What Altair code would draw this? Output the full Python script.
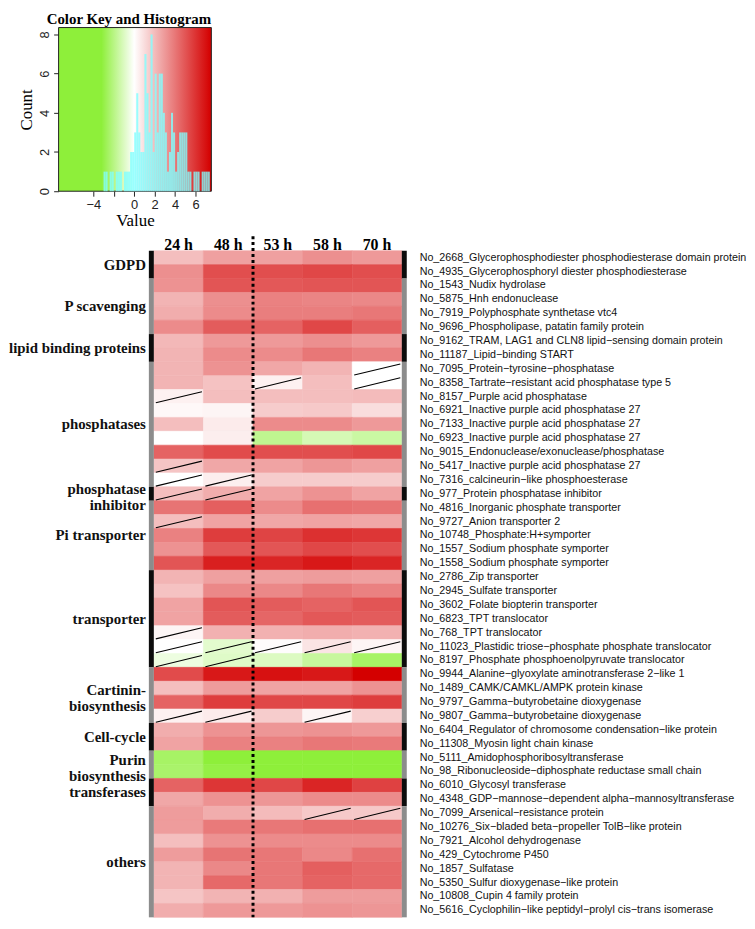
import altair as alt
import pandas as pd

# ---------------- data ----------------
times = ["24 h", "48 h", "53 h", "58 h", "70 h"]

genes = [
    "No_2668_Glycerophosphodiester phosphodiesterase domain protein",
    "No_4935_Glycerophosphoryl diester phosphodiesterase",
    "No_1543_Nudix hydrolase",
    "No_5875_Hnh endonuclease",
    "No_7919_Polyphosphate synthetase vtc4",
    "No_9696_Phospholipase, patatin family protein",
    "No_9162_TRAM, LAG1 and CLN8 lipid\u2212sensing domain protein",
    "No_11187_Lipid\u2212binding START",
    "No_7095_Protein\u2212tyrosine\u2212phosphatase",
    "No_8358_Tartrate\u2212resistant acid phosphatase type 5",
    "No_8157_Purple acid phosphatase",
    "No_6921_Inactive purple acid phosphatase 27",
    "No_7133_Inactive purple acid phosphatase 27",
    "No_6923_Inactive purple acid phosphatase 27",
    "No_9015_Endonuclease/exonuclease/phosphatase",
    "No_5417_Inactive purple acid phosphatase 27",
    "No_7316_calcineurin\u2212like phosphoesterase",
    "No_977_Protein phosphatase inhibitor",
    "No_4816_Inorganic phosphate transporter",
    "No_9727_Anion transporter 2",
    "No_10748_Phosphate:H+symporter",
    "No_1557_Sodium phosphate symporter",
    "No_1558_Sodium phosphate symporter",
    "No_2786_Zip transporter",
    "No_2945_Sulfate transporter",
    "No_3602_Folate biopterin transporter",
    "No_6823_TPT translocator",
    "No_768_TPT translocator",
    "No_11023_Plastidic triose\u2212phosphate phosphate translocator",
    "No_8197_Phosphate phosphoenolpyruvate translocator",
    "No_9944_Alanine\u2212glyoxylate aminotransferase 2\u2212like 1",
    "No_1489_CAMK/CAMKL/AMPK protein kinase",
    "No_9797_Gamma\u2212butyrobetaine dioxygenase",
    "No_9807_Gamma\u2212butyrobetaine dioxygenase",
    "No_6404_Regulator of chromosome condensation\u2212like protein",
    "No_11308_Myosin light chain kinase",
    "No_5111_Amidophosphoribosyltransferase",
    "No_98_Ribonucleoside\u2212diphosphate reductase small chain",
    "No_6010_Glycosyl transferase",
    "No_4348_GDP\u2212mannose\u2212dependent alpha\u2212mannosyltransferase",
    "No_7099_Arsenical\u2212resistance protein",
    "No_10276_Six\u2212bladed beta\u2212propeller TolB\u2212like protein",
    "No_7921_Alcohol dehydrogenase",
    "No_429_Cytochrome P450",
    "No_1857_Sulfatase",
    "No_5350_Sulfur dioxygenase\u2212like protein",
    "No_10808_Cupin 4 family protein",
    "No_5616_Cyclophilin\u2212like peptidyl\u2212prolyl cis\u2212trans isomerase",
]

v24 = [1.9, 3.3, 3.2, 2.2, 2.4, 3.4, 2.1, 2.2, 2.2, 2.2, 0.4, 0.2, 1.9, 0.0, 4.6, 1.7,
       0.0, 1.9, 4.1, 1.9, 3.7, 3.2, 5.0, 2.2, 1.8, 2.7, 2.7, 0.3, 0.0, -0.5, 5.3, 1.9,
       4.6, 0.4, 2.4, 2.7, -2.5, -2.4, 4.6, 2.6, 2.9, 2.9, 1.9, 2.9, 2.2, 2.2, 1.7, 2.4]
v48 = [2.8, 5.2, 5.0, 3.3, 3.4, 4.8, 3.0, 3.4, 3.2, 1.8, 1.9, 0.3, 0.6, 0.5, 5.3, 2.6,
       0.5, 2.4, 4.7, 2.7, 5.7, 4.9, 6.6, 2.8, 3.5, 5.0, 4.8, 2.3, -0.8, -0.9, 6.8, 2.9,
       5.7, 0.6, 3.2, 3.7, -3.6, -3.0, 5.9, 3.2, 2.4, 3.9, 3.2, 4.1, 3.5, 4.4, 2.2, 3.0]
v53 = [2.8, 5.2, 4.9, 3.7, 3.8, 4.6, 3.0, 3.4, 2.6, 0.4, 1.9, 1.5, 3.4, -1.8, 5.2, 2.7,
       1.5, 2.7, 3.4, 2.6, 5.5, 5.0, 6.4, 2.8, 3.5, 4.8, 4.5, 2.3, 0.1, -1.0, 7.0, 2.7,
       5.4, 1.5, 3.1, 3.7, -4.0, -3.6, 5.4, 3.1, 2.0, 4.0, 3.4, 4.0, 4.0, 4.0, 2.3, 3.0]
v58 = [3.3, 5.4, 5.0, 3.6, 3.8, 5.4, 3.3, 4.0, 2.2, 1.9, 1.9, 1.6, 3.4, -1.2, 5.2, 3.1,
       1.5, 3.2, 4.2, 2.7, 6.1, 5.4, 6.8, 2.9, 4.0, 4.6, 4.9, 2.4, 0.8, -1.6, 6.8, 2.7,
       5.4, 0.3, 3.2, 4.0, -4.0, -3.8, 6.4, 3.4, 1.6, 4.2, 3.4, 3.5, 4.7, 4.6, 2.9, 3.2]
v70 = [3.0, 5.2, 5.0, 3.5, 4.0, 4.7, 3.0, 3.7, 0.0, 0.0, 2.0, 1.0, 3.0, -1.5, 5.4, 2.8,
       1.5, 2.7, 4.1, 2.6, 5.9, 5.2, 6.4, 2.8, 3.7, 5.0, 4.8, 2.3, 0.3, -2.5, 7.5, 3.2,
       5.7, 1.4, 3.0, 3.9, -4.0, -3.8, 5.6, 3.4, 1.6, 4.2, 3.4, 4.2, 4.4, 4.4, 2.9, 3.1]

group_names = ["GDPD", "P scavenging", "lipid binding proteins", "phosphatases",
               "phosphatase\ninhibitor", "Pi transporter", "transporter",
               "Cartinin-\nbiosynthesis", "Cell-cycle", "Purin\nbiosynthesis",
               "transferases", "others"]
group_sizes = [2, 4, 2, 9, 1, 5, 7, 4, 2, 2, 2, 8]

# (row, column) of cells crossed by a slash, 1-based
slashed = [(9, 5), (10, 3), (10, 5), (11, 1), (16, 1), (17, 1), (17, 2), (18, 1), (18, 2),
           (20, 1), (28, 1), (29, 1), (29, 2), (29, 3), (29, 4), (29, 5), (30, 1), (30, 2),
           (34, 1), (34, 2), (34, 4), (41, 4), (41, 5)]

divider_after = "48 h"

hist_start = [-3.0, -2.8, -2.6, -2.4, -2.2, -2.0, -1.8, -1.6, -1.4, -1.2, -1.0, -0.8, -0.6,
              -0.4, -0.2, 0.0, 0.2, 0.4, 0.6, 0.8, 1.0, 1.2, 1.4, 1.6, 1.8, 2.0, 2.2, 2.4,
              2.6, 2.8, 3.0, 3.2, 3.4, 3.6, 3.8, 4.0, 4.2, 4.4, 4.6, 4.8, 5.0, 5.2, 5.4,
              5.6, 5.8, 6.0, 6.2, 6.4, 6.6, 6.8, 7.0, 7.2]
hist_count = [1, 1, 0, 1, 1, 0, 1, 1, 1, 0, 1, 1, 1,
              2, 2, 3, 5, 3, 2, 2, 7, 5, 3, 8, 2, 6, 3, 6,
              6, 4, 3, 1, 2, 4, 3, 1, 2, 3, 3, 3, 3, 1, 1,
              0, 1, 1, 1, 0, 1, 1, 1, 1]
hist_width = 0.2
key_value_range = [-7.4, 7.55]
key_count_range = [0, 8.35]

# ---------------- styling ----------------
GREEN = "#8EEF3A"
WHITE = "#FFFFFF"
RED = "#D40000"
col_domain = [-7.5, -3.2, 0, 7.5]
col_range = [GREEN, GREEN, WHITE, RED]
color_scale = alt.Scale(domain=col_domain, range=col_range, interpolate="rgb", clamp=True)

W, H = 250, 672
KEY_H = 165
KEY_LEFT, KEY_RIGHT = -96, 58   # key plot edges relative to heatmap plot origin
GROUP_FS, GROUP_LH = 15, 16

SERIF = "Liberation Serif"
SANS = "Liberation Sans"

# ---------------- tables ----------------
value_cols = [v24, v48, v53, v58, v70]
cells = []
for i, g in enumerate(genes):
    for j, t in enumerate(times):
        cells.append({"gene": g, "time": t, "r0": i, "r1": i + 1, "c0": j, "c1": j + 1,
                      "value": value_cols[j][i]})
df_cells = pd.DataFrame(cells)

df_slash = pd.DataFrame([{"x0": c - 1 + 0.04, "x1": c - 1 + 0.97,
                          "y0": r - 1 + 0.95, "y1": r - 1 + 0.15} for r, c in slashed])

row_px = H / len(genes)
starts, acc = [], 0
for s in group_sizes:
    starts.append(acc)
    acc += s
df_groups = pd.DataFrame({
    "name": group_names,
    "start": starts,
    "end": [s + n for s, n in zip(starts, group_sizes)],
    # first line sits a little above the group centre when the label wraps
    "mid": [s + n / 2 - name.count("\n") * 0.3 * GROUP_LH / row_px
            for s, n, name in zip(starts, group_sizes, group_names)],
    "barcol": ["#0c0c0c" if k % 2 == 0 else "#8c8c8c" for k in range(len(group_names))],
})

df_rowlab = pd.DataFrame({"gene": genes, "r": [i + 0.5 for i in range(len(genes))]})
df_head = pd.DataFrame({"time": times, "xc": [j + 0.5 for j in range(len(times))],
                        "y": [-0.42] * len(times)})
df_div = pd.DataFrame({"x": [times.index(divider_after) + 1], "y0": [-1.05], "y1": [len(genes)]})

# ---------------- heatmap ----------------
xs = alt.Scale(domain=[0, len(times)], nice=False, zero=False)
ys = alt.Scale(domain=[0, len(genes)], reverse=True, nice=False, zero=False)

cell_layer = alt.Chart(df_cells).mark_rect(strokeWidth=0.6).encode(
    x=alt.X("c0:Q", scale=xs, axis=None),
    x2="c1:Q",
    y=alt.Y("r0:Q", scale=ys, axis=None),
    y2="r1:Q",
    color=alt.Color("value:Q", scale=color_scale, legend=None),
    stroke=alt.Stroke("value:Q", scale=color_scale, legend=None),
)

slash_layer = alt.Chart(df_slash).mark_rule(color="black", strokeWidth=1.1).encode(
    x=alt.X("x0:Q", scale=xs, axis=None), x2="x1:Q",
    y=alt.Y("y0:Q", scale=ys, axis=None), y2="y1:Q",
)

div_layer = alt.Chart(df_div).mark_rule(color="black", strokeWidth=3, strokeDash=[3, 3]).encode(
    x=alt.X("x:Q", scale=xs, axis=None),
    y=alt.Y("y0:Q", scale=ys, axis=None), y2="y1:Q",
)

head_layer = alt.Chart(df_head).mark_text(font=SERIF, fontSize=16, fontWeight="bold",
                                           baseline="middle", color="black").encode(
    x=alt.X("xc:Q", scale=xs, axis=None),
    y=alt.Y("y:Q", scale=ys, axis=None),
    text="time:N",
)

rowlab_layer = alt.Chart(df_rowlab).mark_text(font=SANS, fontSize=10.8, align="left",
                                               baseline="middle", color="#111").encode(
    x=alt.value(W + 18),
    y=alt.Y("r:Q", scale=ys, axis=None),
    text="gene:N",
)

grouplab_layer = alt.Chart(df_groups).mark_text(font=SERIF, fontSize=GROUP_FS,
                                                 fontWeight="bold",
                                                 align="right", baseline="middle",
                                                 lineBreak="\n", lineHeight=GROUP_LH,
                                                 color="#111").encode(
    x=alt.value(-8),
    y=alt.Y("mid:Q", scale=ys, axis=None),
    text="name:N",
)

left_bar = alt.Chart(df_groups).mark_rect().encode(
    x=alt.value(-5), x2=alt.value(0),
    y=alt.Y("start:Q", scale=ys, axis=None), y2="end:Q",
    fill=alt.Fill("barcol:N", scale=None),
)
right_bar = alt.Chart(df_groups).mark_rect().encode(
    x=alt.value(W), x2=alt.value(W + 5),
    y=alt.Y("start:Q", scale=ys, axis=None), y2="end:Q",
    fill=alt.Fill("barcol:N", scale=None),
)

heat = alt.layer(cell_layer, slash_layer, div_layer, head_layer, rowlab_layer,
                 grouplab_layer, left_bar, right_bar).properties(width=W, height=H)

# ---------------- colour key + histogram ----------------
kx = alt.Scale(domain=key_value_range, range=[KEY_LEFT, KEY_RIGHT], nice=False, zero=False)
ky = alt.Scale(domain=key_count_range, nice=False, zero=False)

span = key_value_range[1] - key_value_range[0]
stops = [alt.GradientStop(color=GREEN, offset=0.0)]
for d, c in zip(col_domain, col_range):
    off = (d - key_value_range[0]) / span
    if 0 < off < 1:
        stops.append(alt.GradientStop(color=c, offset=off))
stops.append(alt.GradientStop(color=RED, offset=1.0))
gradient = alt.LinearGradient(gradient="linear", stops=stops, x1=0, x2=1, y1=0, y2=0)

xaxis = alt.Axis(values=[-4, -2, 0, 2, 4, 6],
                 labelExpr="datum.value == -2 ? '' : datum.label",
                 title="Value", titleFont=SERIF, titleFontSize=17, titleFontWeight="normal",
                 titleColor="black", titlePadding=2,
                 labelFont=SANS, labelFontSize=13, labelColor="#222", labelPadding=2,
                 tickColor="#222", tickSize=5, domain=False, grid=False)
yaxis = alt.Axis(values=[0, 2, 4, 6, 8], labelAngle=270, labelAlign="center",
                 labelBaseline="bottom",
                 title="Count", titleFont=SERIF, titleFontSize=17, titleFontWeight="normal",
                 titleColor="black", titlePadding=3,
                 labelFont=SANS, labelFontSize=13, labelColor="#222", labelPadding=2,
                 tickColor="#222", tickSize=5, domain=False, grid=False,
                 offset=-KEY_LEFT)

df_key = pd.DataFrame({"lo": [key_value_range[0]], "hi": [key_value_range[1]],
                       "c0": [key_count_range[0]], "c1": [key_count_range[1]]})
key_rect = alt.Chart(df_key).mark_rect(fill=gradient, stroke="#222", strokeWidth=1).encode(
    x=alt.X("lo:Q", scale=kx, axis=xaxis), x2="hi:Q",
    y=alt.Y("c0:Q", scale=ky, axis=yaxis), y2="c1:Q",
)

df_hist = pd.DataFrame({"lo": hist_start, "count": hist_count})
df_hist["hi"] = df_hist["lo"] + hist_width
df_hist["zero"] = 0
df_hist = df_hist[df_hist["count"] > 0]
hist_layer = alt.Chart(df_hist).mark_rect(color="#7FFFFF", opacity=0.8).encode(
    x=alt.X("lo:Q", scale=kx, axis=xaxis), x2="hi:Q",
    y=alt.Y("count:Q", scale=ky, axis=yaxis), y2="zero:Q",
)

key = alt.layer(key_rect, hist_layer).properties(
    width=KEY_RIGHT, height=KEY_H,
    title=alt.TitleParams("Color Key and Histogram", font=SERIF, fontSize=15,
                          fontWeight="bold", anchor="start", frame="group", dx=-108,
                          offset=0, color="black"),
)

chart = alt.vconcat(key, heat, spacing=5).properties(
    padding=0, background="white"
).configure_view(strokeWidth=0)

chart.save("out.html", embed_options={"renderer": "svg", "actions": False})
